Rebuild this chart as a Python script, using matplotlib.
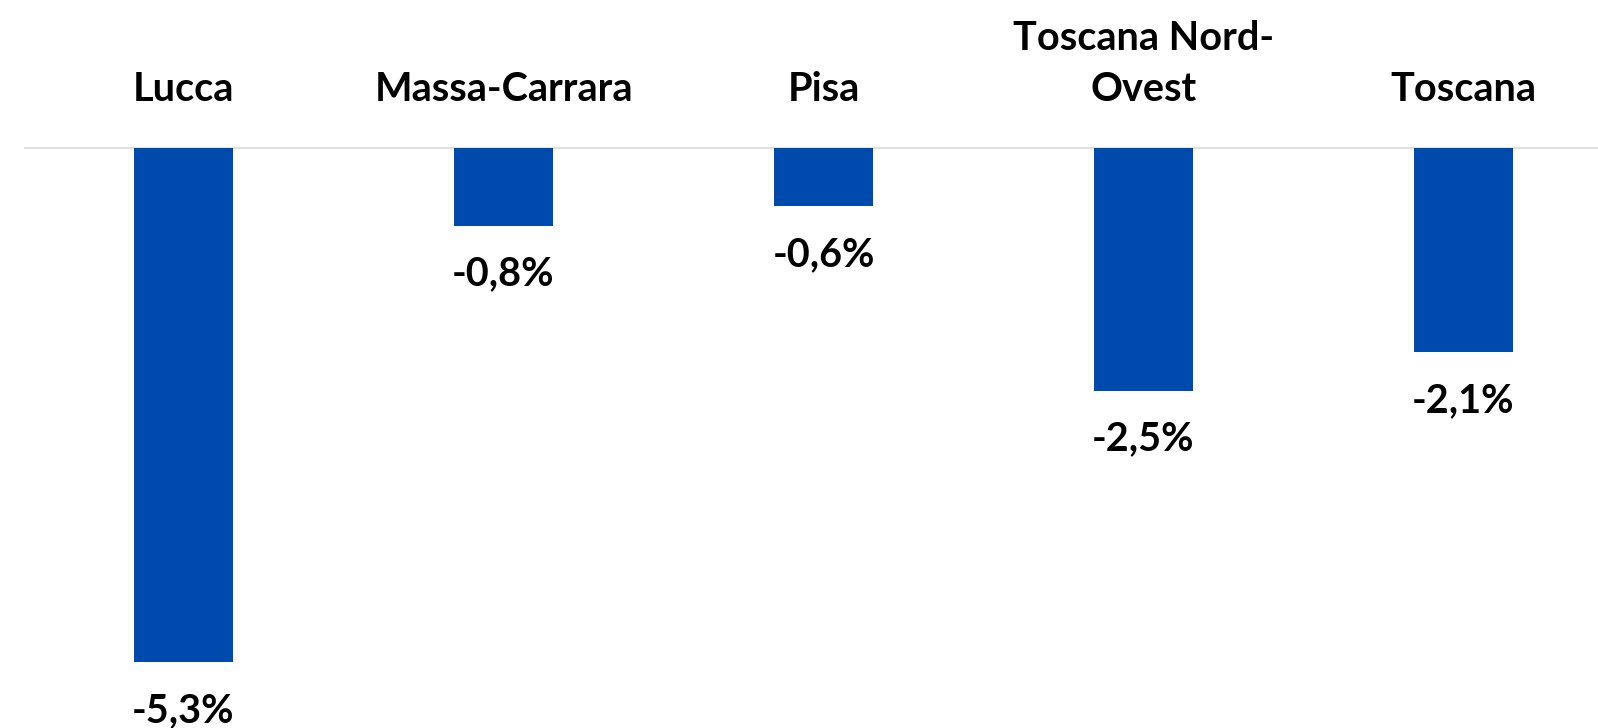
import matplotlib
matplotlib.use('Agg')
import matplotlib.pyplot as plt

categories = ['Lucca', 'Massa-Carrara', 'Pisa', 'Toscana Nord-\nOvest', 'Toscana']
values = [-5.3, -0.8, -0.6, -2.5, -2.1]
value_labels = ['-5,3%', '-0,8%', '-0,6%', '-2,5%', '-2,1%']

BAR_COLOR = '#004AAD'
FONT = ['Lato', 'DejaVu Sans']

W, H = 1598, 728
fig = plt.figure(figsize=(W / 100, H / 100), dpi=100)
ax = fig.add_axes([0, 0, 1, 1])

x = list(range(len(categories)))
ax.bar(x, values, width=0.31, color=BAR_COLOR, zorder=2)

# horizontal zero line
ax.hlines(0, -0.5, len(categories) - 0.5, color='#d9d9d9', lw=1.2, zorder=1)

for i, (cat, val, lab) in enumerate(zip(categories, values, value_labels)):
    ax.annotate(cat, (i, 0), xytext=(0, 29), textcoords='offset points',
                ha='center', va='bottom', fontsize=28.5, family=FONT,
                weight='bold', linespacing=1.45)
    ax.annotate(lab, (i, val), xytext=(0, -35), textcoords='offset points',
                ha='center', va='center', fontsize=28.5, family=FONT,
                weight='bold')

# 320 px per category, 97 px per percentage point
ax.set_xlim(-183.5 / 320, -183.5 / 320 + W / 320)
ax.set_ylim(-(H - 148) / 97, 148 / 97)
ax.axis('off')

fig.savefig('out.png', dpi=100)
